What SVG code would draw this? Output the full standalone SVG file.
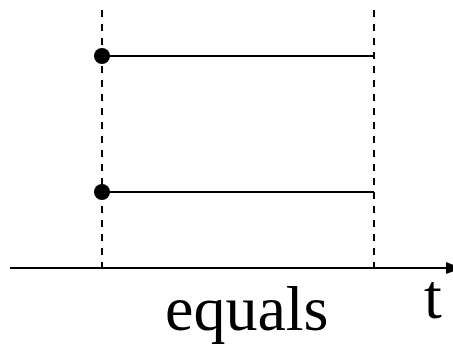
<svg xmlns="http://www.w3.org/2000/svg" width="453" height="352" viewBox="0 0 453 352">
<style>
.dash{stroke:#000;stroke-width:2;stroke-dasharray:7 7;fill:none}
.line{stroke:#000;stroke-width:2;fill:none}
.lbl{font-family:"Liberation Serif","Times New Roman",serif;font-size:64px;fill:#000}
</style>
<rect width="453" height="352" fill="#fff"/>
<g id="connectors">
<line class="dash" x1="102" y1="10" x2="102" y2="268"/>
<line class="dash" x1="374" y1="10" x2="374" y2="268"/>
<line class="line" x1="10" y1="268" x2="450" y2="268"/>
<polygon points="446,262 462,268 446,274" fill="#000"/>
</g>
<g id="interval1">
<line class="line" x1="102" y1="56" x2="374" y2="56"/>
<circle cx="102" cy="56" r="8" fill="#000"/>
</g>
<g id="interval2">
<line class="line" x1="102" y1="192" x2="374" y2="192"/>
<circle cx="102" cy="192" r="8" fill="#000"/>
</g>
<g id="labels">
<text class="lbl" x="424" y="318">t</text>
<text class="lbl" x="165" y="330">equals</text>
</g>
</svg>
